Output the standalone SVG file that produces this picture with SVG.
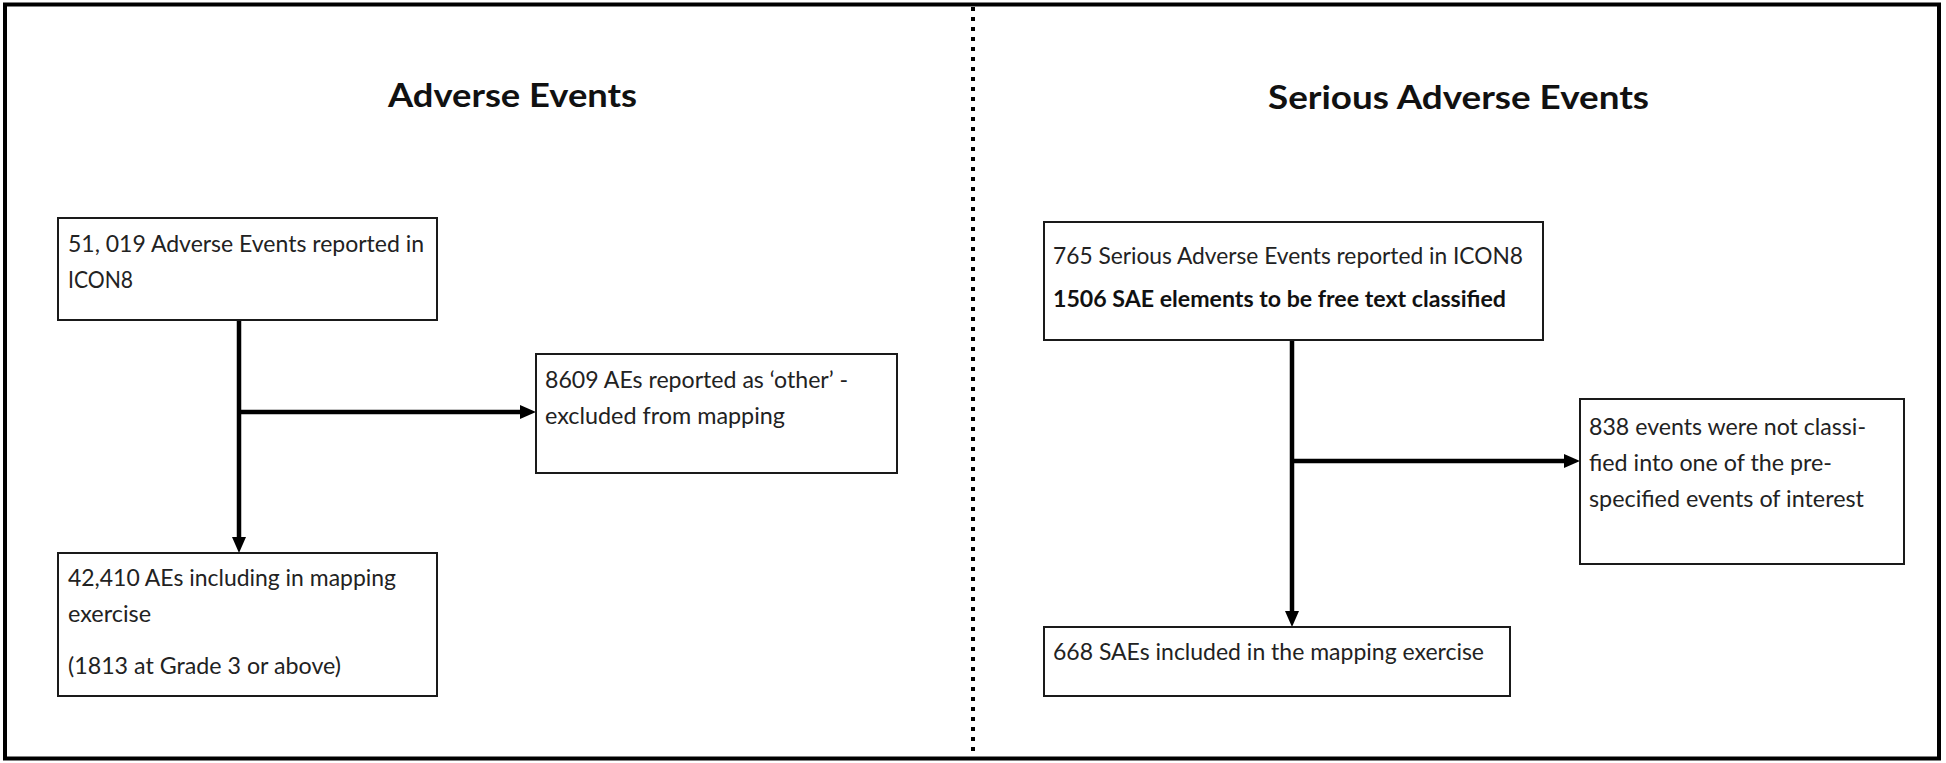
<svg xmlns="http://www.w3.org/2000/svg" width="1946" height="763" viewBox="0 0 1946 763">
<style>
.box{fill:#fff;stroke:#1a1a1a;stroke-width:2}
.t{font-family:Lato,"Liberation Sans",sans-serif;font-size:23px;fill:#222}
.b{font-weight:bold;fill:#111}
.title{font-family:Lato,"Liberation Sans",sans-serif;font-size:33px;font-weight:bold;fill:#111;text-anchor:start}
.conn{fill:none;stroke:#000;stroke-width:4.5}
</style>
<defs>
<marker id="ah" markerUnits="userSpaceOnUse" viewBox="0 0 16 14" refX="8" refY="7" markerWidth="16" markerHeight="14" orient="auto">
<path d="M0,0 L16,7 L0,14 z" fill="#000"/>
</marker>
</defs>
<rect width="1946" height="763" fill="#fff"/>
<rect x="5" y="4.5" width="1934" height="754" fill="none" stroke="#000" stroke-width="4"/>
<line x1="973" y1="7" x2="973" y2="758" stroke="#000" stroke-width="4" stroke-dasharray="4 6"/>
<text class="title" x="388" y="107" textLength="249" lengthAdjust="spacingAndGlyphs">Adverse Events</text>
<text class="title" x="1268" y="109" textLength="381" lengthAdjust="spacingAndGlyphs">Serious Adverse Events</text>
<g id="connectors">
<path class="conn" d="M239,320 V545" marker-end="url(#ah)"/>
<path class="conn" d="M239,412 H528" marker-end="url(#ah)"/>
<path class="conn" d="M1292,340 V619" marker-end="url(#ah)"/>
<path class="conn" d="M1292,461 H1572" marker-end="url(#ah)"/>
</g>
<g id="n1">
<rect class="box" x="58" y="218" width="379" height="102"/>
<text class="t" x="68" y="252" textLength="356" lengthAdjust="spacingAndGlyphs">51, 019 Adverse Events reported in</text>
<text class="t" x="68" y="288" textLength="65" lengthAdjust="spacingAndGlyphs">ICON8</text>
</g>
<g id="n2">
<rect class="box" x="536" y="354" width="361" height="119"/>
<text class="t" x="545" y="388" textLength="303" lengthAdjust="spacingAndGlyphs">8609 AEs reported as ‘other’ -</text>
<text class="t" x="545" y="424" textLength="240" lengthAdjust="spacingAndGlyphs">excluded from mapping</text>
</g>
<g id="n3">
<rect class="box" x="58" y="553" width="379" height="143"/>
<text class="t" x="68" y="586" textLength="328" lengthAdjust="spacingAndGlyphs">42,410 AEs including in mapping</text>
<text class="t" x="68" y="622" textLength="83" lengthAdjust="spacingAndGlyphs">exercise</text>
<text class="t" x="68" y="674" textLength="273" lengthAdjust="spacingAndGlyphs">(1813 at Grade 3 or above)</text>
</g>
<g id="n4">
<rect class="box" x="1044" y="222" width="499" height="118"/>
<text class="t" x="1053" y="264" textLength="470" lengthAdjust="spacingAndGlyphs">765 Serious Adverse Events reported in ICON8</text>
<text class="t b" x="1053" y="307" textLength="453" lengthAdjust="spacingAndGlyphs">1506 SAE elements to be free text classified</text>
</g>
<g id="n5">
<rect class="box" x="1580" y="399" width="324" height="165"/>
<text class="t" x="1589" y="435" textLength="277" lengthAdjust="spacingAndGlyphs">838 events were not classi-</text>
<text class="t" x="1589" y="471" textLength="243" lengthAdjust="spacingAndGlyphs">fied into one of the pre-</text>
<text class="t" x="1589" y="507" textLength="275" lengthAdjust="spacingAndGlyphs">specified events of interest</text>
</g>
<g id="n6">
<rect class="box" x="1044" y="627" width="466" height="69"/>
<text class="t" x="1053" y="660" textLength="431" lengthAdjust="spacingAndGlyphs">668 SAEs included in the mapping exercise</text>
</g>
</svg>
